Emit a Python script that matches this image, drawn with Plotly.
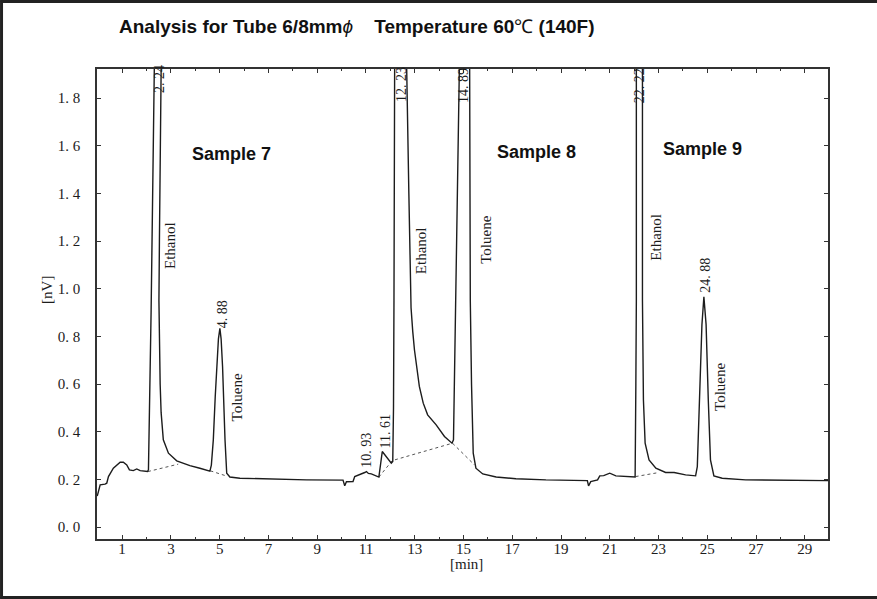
import plotly.graph_objects as go

# ---- chromatogram trace (time [min], signal [nV]) ----
time_min = [
    -0.02, 0.10, 0.30, 0.37, 0.44, 0.64, 0.92, 1.05, 1.19, 1.30, 1.46, 1.60, 1.74, 2.04,
    # Sample 7 ethanol (off scale)
    2.08, 2.19, 2.32, 2.34, 2.62, 2.60, 2.53, 2.51, 2.56, 2.60, 2.69, 2.90, 3.24, 3.78, 4.19, 4.60,
    # Sample 7 toluene
    4.66, 4.74, 4.82, 4.88, 4.95, 5.01, 5.06, 5.12, 5.17, 5.22, 5.29, 5.42, 5.83, 7.19, 8.56, 10.06,
    # small peaks
    10.13, 10.20, 10.47, 10.54, 10.74, 10.95, 11.02, 11.10, 11.22, 11.43, 11.53, 11.67, 11.80, 11.92, 12.04, 12.10,
    # Sample 8 ethanol (off scale)
    12.13, 12.15, 12.17, 12.18, 12.67, 12.67, 12.76, 12.85, 12.92, 12.99, 13.19, 13.35, 13.53, 13.88, 14.22, 14.53,
    # Sample 8 toluene (off scale)
    14.59, 14.69, 14.78, 14.84, 14.85, 15.25, 15.25, 15.28, 15.33, 15.40, 15.51, 15.79, 16.34, 17.15, 18.38, 19.75,
    # baseline noise
    20.08, 20.13, 20.22, 20.50, 20.59, 20.75, 21.00, 21.25, 21.66, 22.04,
    # Sample 9 ethanol (off scale)
    22.07, 22.09, 22.09, 22.09, 22.34, 22.34, 22.34, 22.38, 22.45, 22.61, 22.89, 23.29, 23.64, 24.11, 24.52,
    # Sample 9 toluene
    24.59, 24.69, 24.78, 24.86, 24.95, 25.04, 25.13, 25.27, 25.61, 26.57, 29.95,
]
signal_nv = [
    0.130, 0.177, 0.180, 0.184, 0.212, 0.247, 0.272, 0.272, 0.261, 0.240, 0.237, 0.244, 0.237, 0.233,
    0.240, 0.910, 1.920, 2.050, 2.050, 1.920, 1.200, 0.950, 0.600, 0.480, 0.366, 0.310, 0.278, 0.258, 0.247, 0.235,
    0.260, 0.366, 0.550, 0.673, 0.790, 0.834, 0.790, 0.673, 0.500, 0.366, 0.226, 0.210, 0.205, 0.201, 0.198, 0.197,
    0.173, 0.190, 0.191, 0.212, 0.219, 0.229, 0.233, 0.225, 0.223, 0.215, 0.210, 0.317, 0.300, 0.285, 0.268, 0.275,
    0.500, 0.953, 1.930, 2.050, 2.050, 1.930, 1.400, 0.920, 0.820, 0.743, 0.590, 0.520, 0.471, 0.429, 0.380, 0.352,
    0.366, 0.953, 1.500, 1.930, 2.050, 2.050, 1.930, 0.950, 0.600, 0.310, 0.247, 0.223, 0.210, 0.203, 0.198, 0.195,
    0.195, 0.173, 0.191, 0.198, 0.215, 0.216, 0.226, 0.215, 0.212, 0.210,
    0.600, 0.953, 1.930, 2.050, 2.050, 1.930, 0.953, 0.534, 0.352, 0.282, 0.247, 0.229, 0.229, 0.219, 0.215,
    0.254, 0.534, 0.850, 0.966, 0.850, 0.534, 0.282, 0.215, 0.205, 0.198, 0.195,
]

# ---- integration baselines (dotted) ----
baseline_t = [2.06, 3.30, None, 4.62, 5.29, None, 11.53, 12.08, 14.55, 15.45, None, 22.06, 23.02]
baseline_v = [0.233, 0.264, None, 0.236, 0.214, None, 0.210, 0.279, 0.352, 0.261, None, 0.212, 0.229]

# ---- peak retention-time labels ----
rt_text = ["2. 24", "4. 88", "10. 93", "11. 61", "12. 23", "14. 89", "22. 22", "24. 88"]
rt_x = [2.51, 5.11, 11.04, 11.81, 12.46, 15.02, 22.20, 24.94]
rt_y = [1.88, 0.894, 0.324, 0.40, 1.857, 1.855, 1.85, 1.058]

# ---- compound labels ----
cmp_text = ["Ethanol", "Toluene", "Ethanol", "Toluene", "Ethanol", "Toluene"]
cmp_x = [2.96, 5.69, 13.26, 15.92, 22.88, 25.52]
cmp_y = [1.183, 0.546, 1.158, 1.205, 1.217, 0.588]

# ---- sample labels ----
sample_text = ["Sample 7", "Sample 8", "Sample 9"]
sample_x = [5.50, 18.01, 24.82]
sample_y = [1.565, 1.574, 1.588]

# ---- axis ticks ----
x_tickvals = list(range(1, 30, 2))
x_ticktext = [str(v) for v in x_tickvals]
y_tickvals = [0.0, 0.2, 0.4, 0.6, 0.8, 1.0, 1.2, 1.4, 1.6, 1.8]
y_ticktext = ["0. 0", "0. 2", "0. 4", "0. 6", "0. 8", "1. 0", "1. 2", "1. 4", "1. 6", "1. 8"]

SERIF = "Liberation Serif"
SANS = "Liberation Sans"
INK = "#1c1c1c"

fig = go.Figure()
fig.add_trace(go.Scatter(x=baseline_t, y=baseline_v, mode="lines",
                         line=dict(color="#555", width=1, dash="dot"),
                         hoverinfo="skip", showlegend=False))
fig.add_trace(go.Scatter(x=time_min, y=signal_nv, mode="lines",
                         line=dict(color=INK, width=1.4),
                         showlegend=False))

annotations = []
for t, x, y in zip(rt_text, rt_x, rt_y):
    annotations.append(dict(x=x, y=y, xref="x", yref="y", text=t, textangle=-90,
                            showarrow=False, xanchor="center", yanchor="middle",
                            font=dict(family=SERIF, size=14, color=INK)))
for t, x, y in zip(cmp_text, cmp_x, cmp_y):
    annotations.append(dict(x=x, y=y, xref="x", yref="y", text=t, textangle=-90,
                            showarrow=False, xanchor="center", yanchor="middle",
                            font=dict(family=SERIF, size=15, color=INK)))
for t, x, y in zip(sample_text, sample_x, sample_y):
    annotations.append(dict(x=x, y=y, xref="x", yref="y", text="<b>" + t + "</b>",
                            showarrow=False, xanchor="center", yanchor="middle",
                            font=dict(family=SANS, size=18, color="#111")))

title_html = ("<b>Analysis for Tube 6/8mm</b><i>\u03d5</i>"
              "<b>\u00a0\u00a0\u00a0\u00a0Temperature 60</b>\u2103<b> (140F)</b>")
annotations.append(dict(x=0.3557, y=1.0894, xref="paper", yref="paper", text=title_html,
                        showarrow=False, xanchor="center", yanchor="middle",
                        font=dict(family=SANS, size=19, color="#111")))
annotations.append(dict(x=0.505, y=-0.053, xref="paper", yref="paper", text="[min]",
                        showarrow=False, xanchor="center", yanchor="middle",
                        font=dict(family=SERIF, size=15, color=INK)))
annotations.append(dict(x=-0.0684, y=0.53, xref="paper", yref="paper", text="[nV]",
                        textangle=-90, showarrow=False, xanchor="center", yanchor="middle",
                        font=dict(family=SERIF, size=15, color=INK)))

axis_common = dict(showline=True, linecolor="#333", linewidth=1.5, mirror="allticks",
                   ticks="inside", ticklen=4, tickcolor="#333", tickwidth=1,
                   showgrid=False, zeroline=False,
                   tickfont=dict(family=SERIF, size=15, color=INK))

fig.update_layout(
    width=877, height=599,
    margin=dict(l=97, r=49, t=69, b=60),
    paper_bgcolor="white", plot_bgcolor="white",
    xaxis=dict(range=[-0.03, 29.95], tickvals=x_tickvals, ticktext=x_ticktext,
               ticklabelstandoff=-5,
               minor=dict(dtick=1, tick0=0, ticks="inside", ticklen=2, tickcolor="#333"),
               **axis_common),
    yaxis=dict(range=[-0.05, 1.922], tickvals=y_tickvals, ticktext=y_ticktext,
               ticklabelstandoff=12, **axis_common),
    annotations=annotations,
    shapes=[dict(type="path", xref="paper", yref="paper",
                 path="M 1.07,1.1436 L -0.1306,1.1436 L -0.1306,-0.1245 L 1.07,-0.1245",
                 line=dict(color="#222", width=3))],
)

fig.write_html("out.html", config={"displayModeBar": False},
               post_script="document.body.style.margin='0px';")
